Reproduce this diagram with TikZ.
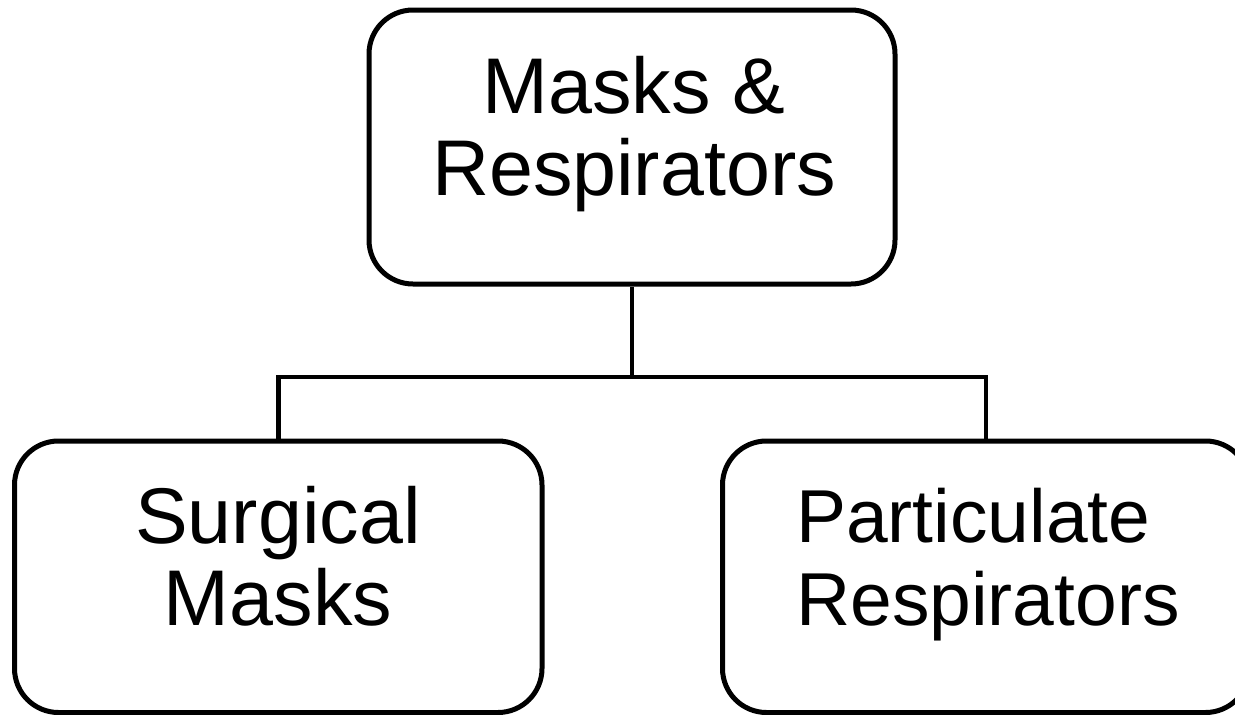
\documentclass[tikz,border=0pt]{standalone}
\usepackage{fontspec}
\setmainfont{Liberation Sans}
\begin{document}
\begin{tikzpicture}[x=1pt,y=-1pt,
  box/.style={draw=black,line width=5pt,rounded corners=44pt,fill=none,inner sep=0pt},
  conn/.style={draw=black,line width=4.8pt},
  lbl/.style={inner sep=0pt,font=\fontsize{79}{82}\selectfont}]
\useasboundingbox (0,0) rectangle (1235,715);
\clip (0,0) rectangle (1235,715);
\node[box,minimum width=526pt,minimum height=274pt] (top) at (632,147) {};
\node[box,minimum width=527.5pt,minimum height=271.5pt] (left) at (278.25,576.75) {};
\node[box,minimum width=527pt,minimum height=271.5pt] (right) at (986,576.75) {};
\node[lbl,align=center,anchor=base] (ttop) at (634,195) {Masks \&\\Respirators};
\node[lbl,align=center,anchor=base] (tleft) at (278,625) {Surgical\\Masks};
\node[lbl,font=\fontsize{75}{83}\selectfont,align=left,anchor=base west] (tright) at (796,625) {Particulate\\Respirators};
\coordinate (j) at (632,377);
\draw[conn] (top.south) -- (j) -| (left.north);
\draw[conn] (j) -| (right.north);
\end{tikzpicture}
\end{document}
